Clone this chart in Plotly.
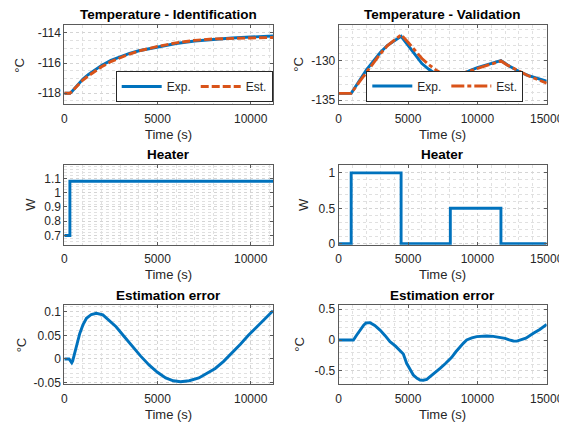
import plotly.graph_objects as go

# ---------------- data ----------------
# Identification experiment
id_time = [0, 300, 400, 600, 800, 1000, 1300, 1600, 2000, 2500, 3000, 3500, 4000,
           5000, 6000, 7000, 8000, 9000, 10000, 11200]
id_exp = [-118.0, -118.0, -117.9, -117.6, -117.3, -117.05, -116.75, -116.47, -116.15,
          -115.82, -115.57, -115.36, -115.18, -114.92, -114.70, -114.53, -114.42,
          -114.33, -114.27, -114.20]
id_est = [-118.0, -118.0, -117.89, -117.62, -117.35, -117.12, -116.84, -116.565, -116.244,
          -115.897, -115.626, -115.394, -115.192, -114.892, -114.653, -114.487, -114.396,
          -114.346, -114.329, -114.30]

id_heater_time = [0, 300, 11200]
id_heater_w = [0.7, 1.08, 1.08]

id_err_time = [0, 250, 330, 400, 450, 570, 700, 830, 1000, 1190, 1450, 1720, 2070, 2400,
               2780, 3200, 3670, 4100, 4560, 5000, 5440, 5850, 6240, 6700, 7220, 7650,
               8100, 8550, 8990, 9450, 9880, 10300, 10760, 11200]
id_err = [0, 0, -0.004, -0.008, -0.004, 0.015, 0.035, 0.054, 0.072, 0.086, 0.094, 0.0965,
          0.093, 0.082, 0.068, 0.048, 0.026, 0.006, -0.013, -0.028, -0.040, -0.046, -0.048,
          -0.046, -0.040, -0.031, -0.020, -0.005, 0.012, 0.031, 0.050, 0.067, 0.086, 0.102]

# Validation experiment
va_time = [0, 900, 1500, 2000, 2500, 3000, 3500, 4000, 4500, 5000, 5500, 6000, 6500, 7000,
           7500, 8050, 8500, 9000, 9500, 10000, 10500, 11000, 11700, 12200, 12700, 13200,
           13700, 14200, 14600, 15000]
va_exp = [-134.15, -134.15, -132.5, -131.15, -130.04, -128.93, -128.03, -127.4, -126.84,
          -127.99, -129.23, -130.34, -131.07, -131.67, -132.09, -132.44, -132.0, -131.58,
          -131.2, -130.85, -130.56, -130.3, -129.96, -130.56, -131.07, -131.54, -131.88,
          -132.18, -132.39, -132.6]
va_est = [-134.15, -134.15, -132.65, -131.43, -130.29, -129.09, -128.07, -127.33, -126.65,
          -127.61, -128.63, -129.69, -130.47, -131.15, -131.68, -132.14, -131.82, -131.53,
          -131.22, -130.9, -130.62, -130.36, -130.0, -130.57, -131.05, -131.54, -131.92,
          -132.28, -132.56, -132.85]

va_heater_time = [0, 900, 4500, 8050, 11700, 15000]
va_heater_w = [0, 1, 0, 0.5, 0, 0]

va_err_time = [0, 600, 1060, 1300, 1540, 1800, 1970, 2260, 2600, 2980, 3350, 3700, 4100,
               4420, 4660, 4900, 5150, 5380, 5650, 5870, 6100, 6350, 6590, 6950, 7310,
               7700, 8150, 8450, 8750, 9000, 9230, 9600, 9950, 10300, 10670, 11150, 11630,
               12000, 12300, 12600, 12850, 13080, 13500, 14040, 14500, 15000]
va_err = [0, -0.005, 0, 0.08, 0.16, 0.24, 0.275, 0.28, 0.235, 0.16, 0.07, -0.027, -0.1,
          -0.17, -0.226, -0.376, -0.48, -0.565, -0.62, -0.645, -0.65, -0.635, -0.59, -0.53,
          -0.457, -0.38, -0.28, -0.19, -0.108, -0.05, 0.0, 0.035, 0.054, 0.062, 0.065, 0.058,
          0.043, 0.027, 0.003, -0.016, -0.018, -0.005, 0.03, 0.108, 0.17, 0.253]

# tick values / labels
time_ticks_id = [0, 5000, 10000]
time_ticks_va = [0, 5000, 10000, 15000]
time_ticklabels_id = ["0", "5000", "10000"]
time_ticklabels_va = ["0", "5000", "10000", "15000"]
id_temp_ticks = [-118, -116, -114]
id_temp_ticklabels = ["-118", "-116", "-114"]
va_temp_ticks = [-135, -130]
va_temp_ticklabels = ["-135", "-130"]
id_heat_ticks = [0.7, 0.8, 0.9, 1.0, 1.1]
id_heat_ticklabels = ["0.7", "0.8", "0.9", "1", "1.1"]
va_heat_ticks = [0, 0.5, 1]
va_heat_ticklabels = ["0", "0.5", "1"]
id_err_ticks = [-0.05, 0, 0.05, 0.1]
id_err_ticklabels = ["-0.05", "0", "0.05", "0.1"]
va_err_ticks = [-0.5, 0, 0.5]
va_err_ticklabels = ["-0.5", "0", "0.5"]

titles = ["Temperature - Identification", "Temperature - Validation",
          "Heater", "Heater", "Estimation error", "Estimation error"]
ylabels = ["°C", "°C", "W", "W", "°C", "°C"]
xlabel = "Time (s)"
legend_names = ["Exp.", "Est."]

# ---------------- styling / layout ----------------
BLUE = "#0072BD"
ORANGE = "#D95319"
AXC = "#262626"
FONT = "Liberation Sans"
LW = 2.9

# the page body has an 8px margin: figure is drawn at (8, 8) in the window
OFF = 8
W, H = 567 - OFF, 422 - OFF


def PX(x):
    return (x - OFF) / W


def PY(y):
    return 1 - (y - OFF) / H


col_px = [(64.3, 273.0), (338.7, 546.7)]
row_px = [(25.0, 104.3), (164.8, 244.8), (305.0, 384.3)]


def xdom(c):
    a, b = col_px[c]
    return [PX(a), PX(b)]


def ydom(r):
    t, b = row_px[r]
    return [PY(b), PY(t)]


fig = go.Figure()

panels = [(0, 0), (0, 1), (1, 0), (1, 1), (2, 0), (2, 1)]


def axname(i, kind):
    return f"{kind}{'' if i == 1 else i}"


fig.add_trace(go.Scatter(x=id_time, y=id_exp, mode="lines", name=legend_names[0],
                         line=dict(color=BLUE, width=LW), xaxis="x", yaxis="y",
                         legend="legend"))
fig.add_trace(go.Scatter(x=id_time, y=id_est, mode="lines", name=legend_names[1],
                         line=dict(color=ORANGE, width=LW, dash="8px,3px"),
                         xaxis="x", yaxis="y", legend="legend"))
fig.add_trace(go.Scatter(x=va_time, y=va_exp, mode="lines", name=legend_names[0],
                         line=dict(color=BLUE, width=LW), xaxis="x2", yaxis="y2",
                         legend="legend2"))
fig.add_trace(go.Scatter(x=va_time, y=va_est, mode="lines", name=legend_names[1],
                         line=dict(color=ORANGE, width=LW, dash="13px,3px,4px,3px"),
                         xaxis="x2", yaxis="y2", legend="legend2"))
fig.add_trace(go.Scatter(x=id_heater_time, y=id_heater_w, mode="lines", showlegend=False,
                         line=dict(color=BLUE, width=LW, shape="hv"),
                         xaxis="x3", yaxis="y3"))
fig.add_trace(go.Scatter(x=va_heater_time, y=va_heater_w, mode="lines", showlegend=False,
                         line=dict(color=BLUE, width=LW, shape="hv"),
                         xaxis="x4", yaxis="y4"))
fig.add_trace(go.Scatter(x=id_err_time, y=id_err, mode="lines", showlegend=False,
                         line=dict(color=BLUE, width=LW), xaxis="x5", yaxis="y5"))
fig.add_trace(go.Scatter(x=va_err_time, y=va_err, mode="lines", showlegend=False,
                         line=dict(color=BLUE, width=LW), xaxis="x6", yaxis="y6"))

xranges = [[0, 11200], [0, 15000]]
xticks = [(time_ticks_id, time_ticklabels_id), (time_ticks_va, time_ticklabels_va)]
yspecs = [
    ([-118.73, -113.47], id_temp_ticks, id_temp_ticklabels, 0.5),
    ([-135.55, -125.4], va_temp_ticks, va_temp_ticklabels, 1),
    ([0.635, 1.195], id_heat_ticks, id_heat_ticklabels, 0.02),
    ([-0.015, 1.114], va_heat_ticks, va_heat_ticklabels, 0.1),
    ([-0.0535, 0.114], id_err_ticks, id_err_ticklabels, 0.01),
    ([-0.715, 0.565], va_err_ticks, va_err_ticklabels, 0.1),
]

MAJ_GRID = "#d4d4d4"
MIN_GRID = "#e0e0e0"

layout_axes = {}
for i, (r, c) in enumerate(panels, start=1):
    xr = xranges[c]
    xt, xtl = xticks[c]
    yr, yt, ytl, ymin = yspecs[i - 1]
    common = dict(showline=True, linecolor="#5a5a5a", linewidth=1, mirror="ticks",
                  ticks="inside", ticklen=3, tickcolor="#5a5a5a", showgrid=True,
                  gridcolor=MAJ_GRID, griddash="dot", gridwidth=1, zeroline=False,
                  tickfont=dict(family=FONT, size=12, color=AXC), automargin=False,
                  tickmode="array", fixedrange=True)
    layout_axes[axname(i, "xaxis")] = dict(
        common, domain=xdom(c), range=xr, tickvals=xt, ticktext=xtl,
        anchor=axname(i, "y"), ticklabelstandoff=3,
        minor=dict(tickmode="linear", tick0=0, dtick=1000, showgrid=True,
                   gridcolor=MIN_GRID, griddash="dot", ticks=""))
    layout_axes[axname(i, "yaxis")] = dict(
        common, domain=ydom(r), range=yr, tickvals=yt, ticktext=ytl,
        anchor=axname(i, "x"),
        minor=dict(tickmode="linear", tick0=0, dtick=ymin, showgrid=True,
                   gridcolor=MIN_GRID, griddash="dot", ticks=""))

annotations = []
ylabel_x = [20, 299, 31, 303.3, 21.7, 300]
for i, (r, c) in enumerate(panels):
    a, b = col_px[c]
    t, bt = row_px[r]
    cx = (a + b) / 2
    annotations.append(dict(text=titles[i], x=PX(cx), y=PY(t - 10),
                            xref="paper", yref="paper", showarrow=False,
                            xanchor="center", yanchor="middle",
                            font=dict(family=FONT, size=13.5, color="black", weight="bold")))
    annotations.append(dict(text=xlabel, x=PX(cx), y=PY(bt + 30),
                            xref="paper", yref="paper", showarrow=False,
                            xanchor="center", yanchor="middle",
                            font=dict(family=FONT, size=13, color=AXC)))
    annotations.append(dict(text=ylabels[i], x=PX(ylabel_x[i]), y=PY((t + bt) / 2),
                            xref="paper", yref="paper", showarrow=False, textangle=-90,
                            xanchor="center", yanchor="middle",
                            font=dict(family=FONT, size=13, color=AXC)))

legend_common = dict(orientation="h", bordercolor=AXC, borderwidth=1, bgcolor="white",
                     font=dict(family=FONT, size=12, color=AXC), xanchor="right",
                     yanchor="bottom", itemwidth=40, tracegroupgap=0)

fig.update_layout(
    width=W, height=H,
    margin=dict(l=0, r=0, t=0, b=0),
    paper_bgcolor="white", plot_bgcolor="white",
    showlegend=True,
    legend=dict(legend_common, x=PX(272.7), y=PY(102.0)),
    legend2=dict(legend_common, x=PX(523.3), y=PY(101.5)),
    annotations=annotations,
    **layout_axes,
)

fig.write_html("out.html")
